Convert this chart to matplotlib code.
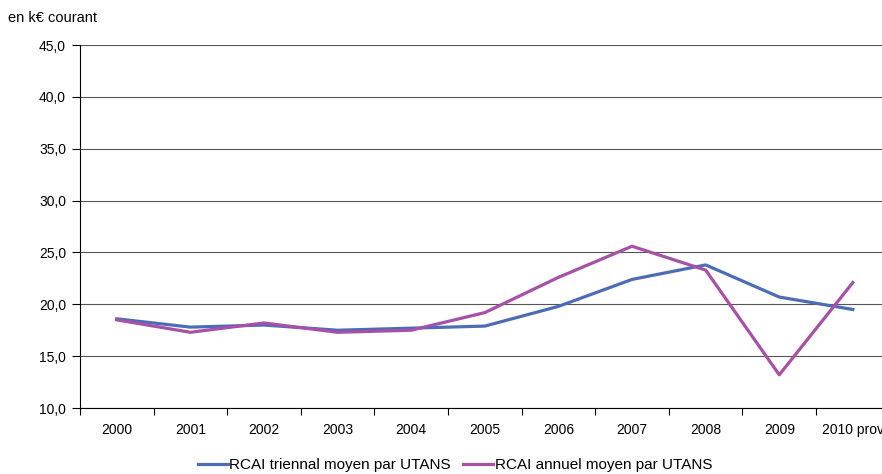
import matplotlib.pyplot as plt
from matplotlib.ticker import FixedLocator, FuncFormatter

plt.rcParams["font.family"] = ["Liberation Sans", "DejaVu Sans"]

years = ["2000", "2001", "2002", "2003", "2004", "2005", "2006", "2007", "2008", "2009", "2010 prov"]
triennal = [18.6, 17.8, 18.0, 17.5, 17.7, 17.9, 19.8, 22.4, 23.8, 20.7, 19.5]
annuel = [18.5, 17.3, 18.2, 17.3, 17.5, 19.2, 22.6, 25.6, 23.3, 13.2, 22.1]

fig = plt.figure(figsize=(8.82, 4.74), dpi=100)
ax = fig.add_axes([0.0907, 0.1392, 0.918, 0.7658])

x = range(len(years))
l1, = ax.plot(x, triennal, color="#4a6db5", lw=2.3, label="RCAI triennal moyen par UTANS")
l2, = ax.plot(x, annuel, color="#a650a8", lw=2.3, label="RCAI annuel moyen par UTANS")

ax.set_xlim(-0.5, len(years) - 0.5)
ax.set_ylim(10, 45)
ax.set_yticks(range(10, 46, 5))
ax.yaxis.set_major_formatter(FuncFormatter(lambda v, p: f"{v:.1f}".replace(".", ",")))
ax.grid(axis="y", color="#555555", lw=0.8)
ax.set_axisbelow(True)

# category labels centred, tick marks on the boundaries
ax.set_xticks(list(x))
ax.set_xticklabels(years)
ax.xaxis.set_minor_locator(FixedLocator([i - 0.5 for i in range(len(years) + 1)]))
ax.tick_params(axis="x", which="major", length=0, pad=11, labelsize=10)
ax.tick_params(axis="x", which="minor", length=5, width=0.8, direction="out")
ax.tick_params(axis="y", length=6, width=0.8, labelsize=10, pad=4)

for s in ["top", "right"]:
    ax.spines[s].set_visible(False)
ax.spines["left"].set_linewidth(0.8)
ax.spines["bottom"].set_linewidth(0.8)

fig.text(0.009, 0.962, "en k\u20ac courant", fontsize=10.5, va="center", ha="left")

fig.legend(handles=[l1, l2], loc="center", bbox_to_anchor=(0.516, 0.019), ncol=2,
           frameon=False, fontsize=11, handlelength=1.95, handletextpad=0.12,
           columnspacing=0.8)

fig.savefig("out.png", dpi=100)
